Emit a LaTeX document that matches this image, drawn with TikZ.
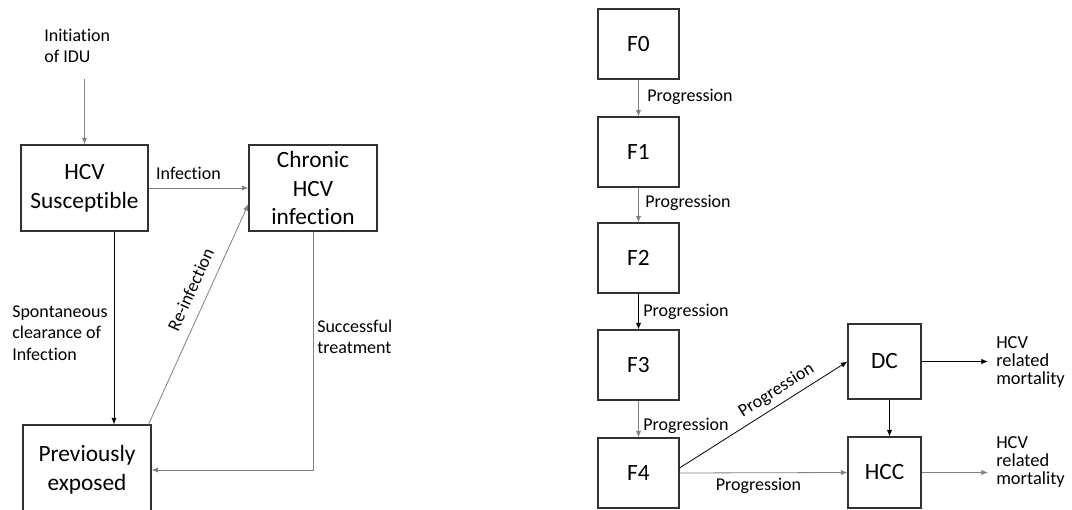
\documentclass[tikz,border=0pt]{standalone}
\usepackage{fontspec}
\setmainfont[Ligatures=NoCommon]{Carlito}
\usetikzlibrary{arrows.meta}
\definecolor{arrgray}{RGB}{128,128,128}
\definecolor{boxline}{RGB}{50,50,50}
\begin{document}
\begin{tikzpicture}[x=0.75pt,y=-0.75pt,
  stbox/.style={draw=boxline,line width=0.8pt,inner sep=0pt,align=center,text=black,
    font=\fontsize{17.5}{21.5}\selectfont},
  lbl/.style={inner sep=0pt,align=left,text=black,font=\fontsize{13.5}{16}\selectfont},
  mort/.style={inner sep=0pt,align=left,text=black,font=\fontsize{13.8}{13.5}\selectfont},
  arr/.style={-{Latex[length=5pt,width=4pt]},line width=0.6pt,black},
  garr/.style={-{Latex[length=5pt,width=4pt]},line width=0.6pt,arrgray}]
\useasboundingbox (0,0) rectangle (1072,510);
% left diagram
\node[lbl,anchor=north west] (init) at (44,29) {Initiation\\of IDU};
\node[stbox,minimum width=127*0.75pt,minimum height=86*0.75pt] (sus) at (84.5,188) {HCV\\Susceptible};
\node[stbox,minimum width=128*0.75pt,minimum height=86*0.75pt] (chr) at (313,188) {Chronic\\HCV\\infection};
\node[stbox,minimum width=128*0.75pt,minimum height=90*0.75pt] (prev) at (87,470) {Previously\\exposed};
\coordinate (iw) at (84.5,79);
\draw[garr] (iw) -- (sus.north);
\draw[garr] (sus.east) -- node[lbl,pos=0.4,above=6pt] (linf) {Infection} (chr.west);
\draw[arr] (sus.south -| 114,0) -- (prev.north -| 114,0);
\node[lbl,anchor=west] (lspon) at (12,333) {Spontaneous\\clearance of\\Infection};
\draw[garr] ([xshift=-3*0.75pt]prev.north east) -- node[lbl,sloped,above=8pt,pos=0.58] (lre) {Re-infection} (chr.west |- 0,204);
\draw[garr] (chr.south) |- (prev.east);
\node[lbl,anchor=west] (lsuc) at (317,337) {Successful\\treatment};
% right diagram
\foreach \n/\y in {0/44,1/152,2/258,3/365,4/473}
  \node[stbox,minimum width=81*0.75pt,minimum height=70*0.75pt] (F\n) at (638.5,\y) {F\n};
\node[stbox,minimum width=73*0.75pt,minimum height=75*0.75pt] (DC) at (884.5,361.5) {DC};
\node[stbox,minimum width=73*0.75pt,minimum height=71*0.75pt] (HCC) at (884.5,472.5) {HCC};
\draw[garr] (F0) -- (F1);
\draw[garr] (F1) -- (F2);
\draw[arr] (F2) -- (F3);
\draw[garr] (F3) -- (F4);
\node[lbl,anchor=west] (p1) at (647,97) {Progression};
\node[lbl,anchor=west] (p2) at (645,203) {Progression};
\node[lbl,anchor=west] (p3) at (643,312) {Progression};
\node[lbl,anchor=west] (p4) at (643,426) {Progression};
\draw[arr] ([yshift=5*0.75pt]F4.east) -- node[lbl,sloped,above=4pt,pos=0.62] (p5) {Progression} (DC.west);
\draw[garr] (F4.east) -- node[lbl,below=4pt,pos=0.47] (p6) {Progression} (HCC.west);
\draw[arr] ([xshift=5*0.75pt]DC.south) -- ([xshift=5*0.75pt]HCC.north);
\node[mort,anchor=west] (m1) at (996,362) {HCV\\related\\mortality};
\node[mort,anchor=west] (m2) at (996,462) {HCV\\related\\mortality};
\draw[arr] (DC.east) -- (DC.east -| 988,0);
\draw[garr] (HCC.east) -- (HCC.east -| 988,0);
\end{tikzpicture}
\end{document}
